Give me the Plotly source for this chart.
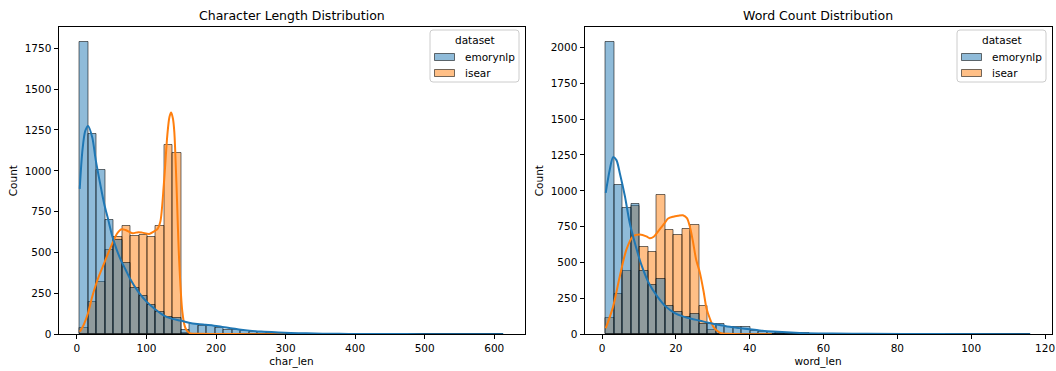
import numpy as np
import plotly.graph_objects as go

# ---------------- data ----------------
datasets = ["emorynlp", "isear"]
legend_title = "dataset"
titles = ["Character Length Distribution", "Word Count Distribution"]

# Character length histogram (50 shared bins)
char_bin_start = 4.0
char_bin_width = 12.18
char_counts_emorynlp = [1790, 1226, 1006, 702, 578, 435, 282, 235, 177, 137,
                        106, 98, 24, 61, 52, 49, 40, 25, 24, 18,
                        16, 12, 10, 7, 5, 4, 3, 3, 2, 2,
                        1, 1, 1, 1, 1, 1, 0, 1, 1, 0,
                        1, 0, 0, 1, 0, 0, 0, 0, 0, 1]
char_counts_isear = [40, 197, 321, 516, 594, 665, 604, 608, 596, 665,
                     1160, 1110, 10, 3, 2, 1, 1, 1, 0, 1,
                     0, 1, 0, 0, 0, 0, 0, 0, 0, 0,
                     0, 0, 0, 0, 0, 0, 0, 0, 0, 0,
                     0, 0, 0, 0, 0, 0, 0, 0, 0, 0]

# Word count histogram (50 shared bins)
word_bin_start = 1.0
word_bin_width = 2.3
word_counts_emorynlp = [2040, 1044, 881, 908, 443, 342, 384, 200, 154, 122,
                        140, 70, 72, 72, 48, 48, 48, 22, 19, 19,
                        12, 10, 8, 6, 5, 4, 3, 2, 2, 2,
                        1, 1, 1, 1, 0, 1, 0, 0, 1, 0,
                        0, 0, 0, 0, 0, 0, 0, 0, 0, 1]
word_counts_isear = [112, 280, 443, 897, 610, 573, 969, 727, 690, 734,
                     764, 200, 30, 5, 2, 1, 1, 1, 1, 0,
                     0, 0, 0, 0, 0, 0, 0, 0, 0, 0,
                     0, 0, 0, 0, 0, 0, 0, 0, 0, 0,
                     0, 0, 0, 0, 0, 0, 0, 0, 0, 0]

# KDE curves (count scale)
char_kde_emorynlp_x = [4, 8, 12, 16, 22, 27, 33, 39, 45, 51, 57, 63, 70, 76, 88, 100,
                       112, 124, 136, 149, 161, 173, 185, 197, 209, 221, 233, 245,
                       257, 269, 290, 307, 330, 353, 377, 401, 449, 497, 545, 613]
char_kde_emorynlp_y = [890, 1130, 1245, 1275, 1205, 1067, 930, 802, 700, 598, 520, 455,
                       395, 343, 261, 200, 155, 118, 96, 84, 71, 63, 58, 53, 45, 37,
                       30, 24, 19, 16, 11, 8, 6, 4, 3, 2, 1.5, 1, 0.7, 0.4]
char_kde_isear_x = [4, 10, 16, 22, 27, 32, 41, 52, 58, 64, 70, 80, 88, 94, 104, 111,
                    116, 120, 125, 130, 133, 135.5, 138, 140, 143, 147, 151.5, 155,
                    158, 163, 175, 200, 250, 300]
char_kde_isear_y = [15, 60, 130, 230, 300, 360, 455, 567, 618, 643, 638, 618, 625, 622,
                    614, 630, 645, 690, 920, 1220, 1330, 1357, 1320, 1240, 930, 450,
                    140, 50, 22, 6, 3, 2, 1, 0.5]

word_kde_emorynlp_x = [1, 2.1, 3, 3.9, 4.8, 6.2, 7.5, 8.9, 10.5, 12.7, 15, 17.3, 19.6,
                       21.9, 24.2, 26.5, 28.8, 31.1, 34.6, 37.3, 40, 42.7, 46.3, 53.5,
                       62.5, 71.6, 89.6, 116]
word_kde_emorynlp_y = [986, 1149, 1235, 1214, 1125, 962, 776, 636, 496, 356, 263, 193,
                       150, 125, 108, 95, 80, 68, 52, 43, 35, 27, 19, 9, 5, 3, 2, 1]
word_kde_isear_x = [1, 3, 4.8, 6.6, 8.4, 10.2, 12, 12.9, 14, 15.2, 17, 17.9, 19.3,
                    20.6, 21.9, 23, 23.8, 24.6, 25.5, 26.5, 27.5, 28.3, 29.2, 30.1,
                    31, 32, 34, 40, 46]
word_kde_isear_y = [42, 193, 403, 590, 683, 695, 683, 670, 680, 718, 776, 807, 820,
                    826, 830, 810, 749, 650, 520, 430, 300, 180, 110, 55, 28, 10, 3,
                    1, 0.5]

# ---------------- styling ----------------
BLUE = "#1f77b4"
ORANGE = "#ff7f0e"
BLUE_FILL = "rgba(31,119,180,0.5)"
ORANGE_FILL = "rgba(255,127,14,0.5)"
EDGE = "rgba(0,0,0,0.55)"
FONT = "DejaVu Sans"
FS = 10.5

W, H = 1056, 371
def px_x(p):
    return p / W
def px_y(p):
    return (H - p) / H

fig = go.Figure()

def centers(start, width, n):
    edges = start + width * np.arange(n + 1)
    return (edges[:-1] + edges[1:]) / 2

cx = centers(char_bin_start, char_bin_width, len(char_counts_emorynlp))
wx = centers(word_bin_start, word_bin_width, len(word_counts_emorynlp))

# orange first (blue drawn on top -> grey overlap)
for (xa, ya, cxs, bw, cnt_b, cnt_o) in [
    ("x", "y", cx, char_bin_width, char_counts_emorynlp, char_counts_isear),
    ("x2", "y2", wx, word_bin_width, word_counts_emorynlp, word_counts_isear),
]:
    fig.add_trace(go.Bar(x=cxs, y=cnt_o, width=bw, name=datasets[1], showlegend=False,
                         marker=dict(color=ORANGE_FILL, line=dict(color=EDGE, width=1)),
                         xaxis=xa, yaxis=ya))
    fig.add_trace(go.Bar(x=cxs, y=cnt_b, width=bw, name=datasets[0], showlegend=False,
                         marker=dict(color=BLUE_FILL, line=dict(color=EDGE, width=1)),
                         xaxis=xa, yaxis=ya))

for (xa, ya, kx, ky, col) in [
    ("x", "y", char_kde_isear_x, char_kde_isear_y, ORANGE),
    ("x", "y", char_kde_emorynlp_x, char_kde_emorynlp_y, BLUE),
    ("x2", "y2", word_kde_isear_x, word_kde_isear_y, ORANGE),
    ("x2", "y2", word_kde_emorynlp_x, word_kde_emorynlp_y, BLUE),
]:
    fig.add_trace(go.Scatter(x=kx, y=ky, mode="lines", xaxis=xa, yaxis=ya,
                             line=dict(color=col, width=2, shape="spline", smoothing=0.8),
                             showlegend=False, hoverinfo="skip"))

axis_common = dict(showline=True, mirror=True, linecolor="black", linewidth=1,
                   ticks="outside", ticklen=4, tickcolor="black", tickwidth=1,
                   showgrid=False, zeroline=False, automargin=False,
                   tickfont=dict(family=FONT, size=FS, color="black"),
                   title_font=dict(family=FONT, size=FS, color="black"),
                   title_standoff=4)

# panel geometry in pixels
panels = [(58.5, 524.5), (584.5, 1051.5)]
top_px, bot_px = 27, 334.3
y_dom = [px_y(bot_px), px_y(top_px)]

# hand-built legends (matplotlib style)
shapes, annotations = [], []
def rounded_box(x0, y0, x1, y1, r=3):
    X0, X1 = px_x(x0), px_x(x1)
    Y0, Y1 = px_y(y0), px_y(y1)
    rx, ry = r / W, r / H
    return (f"M {X0+rx},{Y0} L {X1-rx},{Y0} Q {X1},{Y0} {X1},{Y0-ry} "
            f"L {X1},{Y1+ry} Q {X1},{Y1} {X1-rx},{Y1} L {X0+rx},{Y1} "
            f"Q {X0},{Y1} {X0},{Y1+ry} L {X0},{Y0-ry} Q {X0},{Y0} {X0+rx},{Y0} Z")

fills = [BLUE_FILL, ORANGE_FILL]
for (l, r) in panels:
    bx1 = r - 5.5
    bx0 = bx1 - 89
    by0, by1 = 30, 82
    shapes.append(dict(type="path", path=rounded_box(bx0, by0, bx1, by1),
                       xref="paper", yref="paper", line=dict(color="#cccccc", width=1),
                       fillcolor="rgba(255,255,255,0.8)", layer="above"))
    annotations.append(dict(text=legend_title, x=px_x((bx0 + bx1) / 2), y=px_y(40),
                            xref="paper", yref="paper", showarrow=False,
                            xanchor="center", yanchor="middle",
                            font=dict(family=FONT, size=FS, color="black")))
    for i, (name, fc) in enumerate(zip(datasets, fills)):
        yc = 57 + 16 * i
        sx0 = bx0 + 4.5
        shapes.append(dict(type="rect", x0=px_x(sx0), x1=px_x(sx0 + 20),
                           y0=px_y(yc + 3.5), y1=px_y(yc - 3.5),
                           xref="paper", yref="paper", fillcolor=fc,
                           line=dict(color=EDGE, width=1), layer="above"))
        annotations.append(dict(text=name, x=px_x(sx0 + 28.5), y=px_y(yc),
                                xref="paper", yref="paper", showarrow=False,
                                xanchor="left", yanchor="middle",
                                font=dict(family=FONT, size=FS, color="black")))

for (l, r), t in zip(panels, titles):
    annotations.append(dict(text=t, x=px_x((l + r) / 2), y=px_y(15),
                            xref="paper", yref="paper", showarrow=False,
                            xanchor="center", yanchor="middle",
                            font=dict(family=FONT, size=12.5, color="black")))

fig.update_layout(
    width=W, height=H,
    margin=dict(l=0, r=0, t=0, b=0, autoexpand=False),
    paper_bgcolor="white", plot_bgcolor="white",
    barmode="overlay", bargap=0, showlegend=False,
    font=dict(family=FONT, color="black"),
    xaxis=dict(domain=[px_x(panels[0][0]), px_x(panels[0][1])], range=[-26.5, 643.5],
               tickvals=[0, 100, 200, 300, 400, 500, 600],
               title_text="char_len", anchor="y", **axis_common),
    yaxis=dict(domain=y_dom, range=[0, 1880],
               tickvals=[0, 250, 500, 750, 1000, 1250, 1500, 1750],
               title_text="Count", anchor="x", **axis_common),
    xaxis2=dict(domain=[px_x(panels[1][0]), px_x(panels[1][1])], range=[-4.75, 121.75],
                tickvals=[0, 20, 40, 60, 80, 100, 120],
                title_text="word_len", anchor="y2", **axis_common),
    yaxis2=dict(domain=y_dom, range=[0, 2142],
                tickvals=[0, 250, 500, 750, 1000, 1250, 1500, 1750, 2000],
                title_text="Count", anchor="x2", **axis_common),
    shapes=shapes,
    annotations=annotations,
)

fig.write_html("out.html")
